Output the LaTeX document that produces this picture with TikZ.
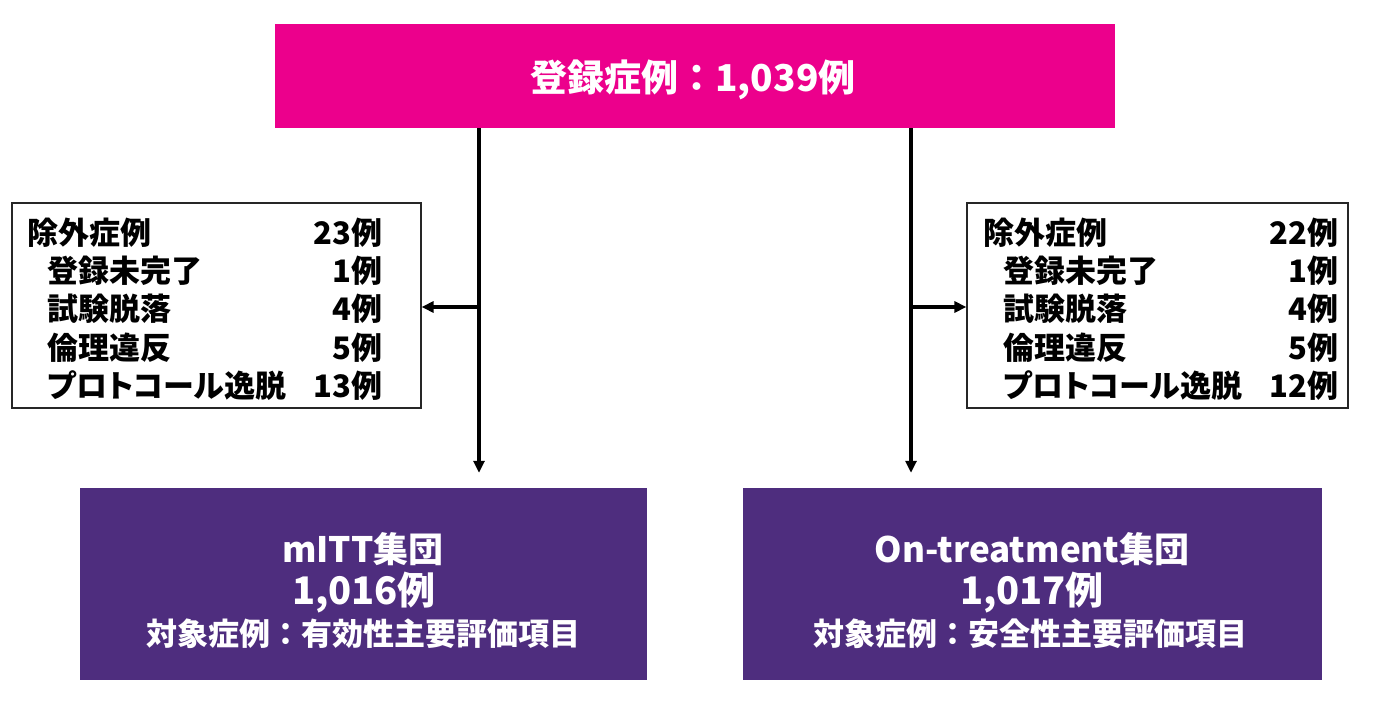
\documentclass[tikz,border=0pt]{standalone}
\usepackage{fontspec}
\setmainfont{Noto Sans CJK JP}
\usetikzlibrary{arrows.meta}
\definecolor{mag}{RGB}{236,0,140}
\definecolor{purp}{RGB}{78,45,126}
\tikzset{
  conn/.style={line width=3.6pt,-{Triangle[length=12pt,width=11pt]}},
  topbox/.style={fill=mag,draw=none,inner sep=0pt},
  exbox/.style={draw=black!85,line width=1.2pt,fill=white,inner sep=0pt},
  grpbox/.style={fill=purp,draw=none,inner sep=0pt},
  titletext/.style={text=white,inner sep=0pt,font=\bfseries\fontsize{37}{40}\selectfont},
  extext/.style={text=black,inner sep=0pt,align=left,font=\bfseries\fontsize{31}{38.3}\selectfont\addfontfeatures{RawFeature=+palt}},
  grpname/.style={text=white,inner sep=0pt,font=\bfseries\fontsize{35}{38}\selectfont},
  grpnum/.style={text=white,inner sep=0pt,font=\bfseries\fontsize{38}{40}\selectfont},
  grpnote/.style={text=white,inner sep=0pt,font=\bfseries\fontsize{31}{34}\selectfont},
}
\newcommand\exrow[2]{\makebox[355pt][l]{#1\hfill#2}}
\begin{document}
\begin{tikzpicture}[x=1pt,y=-1pt]
\useasboundingbox (0,0) rectangle (1390,703);
% boxes
\node[topbox,minimum width=840pt,minimum height=104pt] (top) at (695,76) {};
\node[titletext] (toptext) at (693,80) {登録症例：1,039例};
\node[exbox,minimum width=409pt,minimum height=205pt] (exL) at (216.5,305.5) {};
\node[exbox,minimum width=381pt,minimum height=205pt] (exR) at (1157.5,305.5) {};
\node[grpbox,minimum width=567pt,minimum height=192pt] (grpL) at (363.5,584) {};
\node[grpbox,minimum width=579pt,minimum height=192pt] (grpR) at (1032.5,584) {};
% exclusion texts
\node[extext,anchor=west] (exLt) at (27,309) {%
\exrow{除外症例}{23例}\\
\exrow{\hspace*{20pt}登録未完了}{1例}\\
\exrow{\hspace*{20pt}試験脱落}{4例}\\
\exrow{\hspace*{20pt}倫理違反}{5例}\\
\exrow{\hspace*{20pt}プロトコール逸脱}{13例}};
\node[extext,anchor=west] (exRt) at (983,309) {%
\exrow{除外症例}{22例}\\
\exrow{\hspace*{20pt}登録未完了}{1例}\\
\exrow{\hspace*{20pt}試験脱落}{4例}\\
\exrow{\hspace*{20pt}倫理違反}{5例}\\
\exrow{\hspace*{20pt}プロトコール逸脱}{12例}};
% group texts
\node[grpname] (gL1) at (363,549) {mITT集団};
\node[grpnum] (gL2) at (364,593) {1,016例};
\node[grpnote] (gL3) at (363,634) {対象症例：有効性主要評価項目};
\node[grpname] (gR1) at (1032,549) {On-treatment集団};
\node[grpnum] (gR2) at (1032,593) {1,017例};
\node[grpnote] (gR3) at (1030,634) {対象症例：安全性主要評価項目};
% connectors
\coordinate (jL) at (479,307);
\coordinate (jR) at (911,307);
\draw[conn,shorten >=15pt] (top.south -| jL) -- (grpL.north -| jL);
\draw[conn,shorten >=15pt] (top.south -| jR) -- (grpR.north -| jR);
\draw[conn] (jL) -- (exL.east |- jL);
\draw[conn] (jR) -- (exR.west |- jR);
\end{tikzpicture}
\end{document}
